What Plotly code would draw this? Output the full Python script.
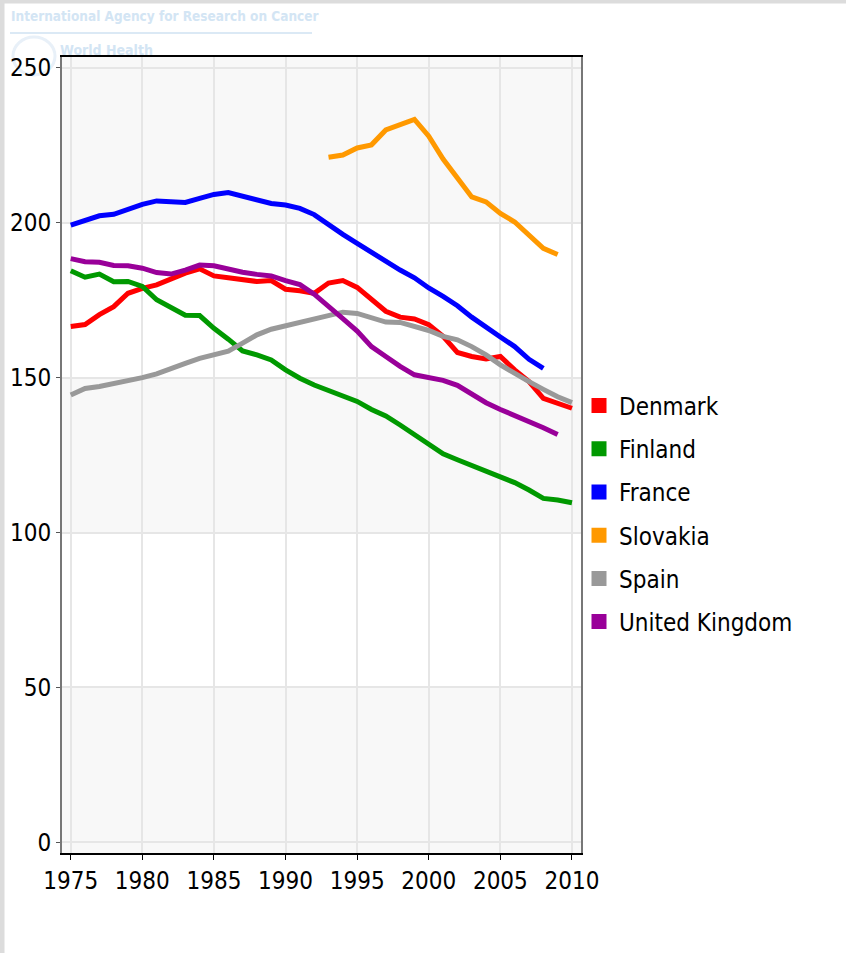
import plotly.graph_objects as go

W, H = 846, 953
L, R, T, B = 62, 265, 57, 100
PW, PH = W - L - R, H - T - B

def px_x(p):
    return (p - L) / PW

def px_y(p):
    return 1 - (p - T) / PH

countries = ["Denmark", "Finland", "France", "Slovakia", "Spain", "United Kingdom"]
colors = ["#ff0000", "#009900", "#0000ff", "#ff9900", "#999999", "#990099"]

years_denmark = list(range(1975, 2011))
denmark = [166.5, 167.1, 170.3, 172.9, 177.2, 178.8, 179.9, 182.0, 183.7, 185.1,
           182.8, 182.2, 181.7, 181.0, 181.3, 178.5, 178.0, 177.2, 180.5, 181.3,
           179.1, 175.2, 171.4, 169.5, 168.9, 167.1, 163.3, 158.1, 156.8, 156.0,
           156.8, 152.5, 148.7, 143.3, 141.7, 140.1]

years_finland = list(range(1975, 2011))
finland = [184.5, 182.4, 183.4, 180.9, 181.0, 179.4, 175.1, 172.4, 170.1, 170.0,
           165.9, 162.4, 158.6, 157.3, 155.7, 152.5, 149.8, 147.6, 145.8, 143.9,
           142.3, 139.7, 137.6, 134.7, 131.6, 128.9, 125.4, 123.5, 121.6, 119.7,
           118.1, 116.1, 113.7, 111.0, 110.5, 109.6]

years_france = list(range(1975, 2009))
france = [199.2, 200.7, 202.2, 202.7, 204.3, 205.9, 207.0, 206.6, 206.5, 207.8,
          209.1, 209.7, 208.4, 207.3, 206.2, 205.7, 204.6, 202.6, 199.3, 196.2,
          193.3, 190.3, 187.6, 184.7, 182.2, 178.9, 176.2, 173.2, 169.5, 166.5,
          163.1, 160.0, 155.9, 153.0]

years_slovakia = list(range(1993, 2010))
slovakia = [221.1, 221.8, 224.1, 225.1, 229.9, 231.5, 233.3, 227.9, 220.5, 214.4,
            208.3, 206.7, 203.0, 200.2, 195.9, 191.7, 189.7]

years_spain = list(range(1975, 2011))
spain = [144.4, 146.5, 147.1, 148.0, 149.0, 150.0, 151.2, 152.7, 154.6, 156.2,
         157.2, 158.5, 161.1, 163.8, 165.6, 166.7, 167.5, 168.7, 170.1, 171.1,
         170.7, 169.5, 167.9, 167.8, 166.5, 165.2, 163.3, 162.2, 160.0, 157.3,
         154.1, 151.2, 148.7, 146.2, 143.8, 141.9]

years_uk = list(range(1975, 2010))
uk = [188.4, 187.4, 187.2, 186.2, 186.1, 185.3, 183.9, 183.4, 184.7, 186.3,
      186.1, 184.9, 184.0, 183.3, 182.8, 181.3, 180.0, 176.9, 172.7, 169.0,
      165.0, 160.0, 156.8, 153.6, 150.9, 150.0, 149.1, 147.5, 144.8, 141.9,
      139.7, 137.8, 135.9, 133.8, 131.6]

x_ticks = [1975, 1980, 1985, 1990, 1995, 2000, 2005, 2010]
y_ticks = [0, 50, 100, 150, 200, 250]

series = [(years_denmark, denmark), (years_finland, finland), (years_france, france),
          (years_slovakia, slovakia), (years_spain, spain), (years_uk, uk)]

FONT = "DejaVu Sans Condensed, Liberation Sans Narrow, sans-serif"

fig = go.Figure()
for (xs, ys), name, col in zip(series, countries, colors):
    fig.add_trace(go.Scatter(x=xs, y=ys, mode="lines", name=name,
                             line=dict(color=col, width=5),
                             showlegend=False, hoverinfo="x+y+name"))
for i, (name, col) in enumerate(zip(countries, colors)):
    fig.add_trace(go.Scatter(x=[None], y=[None], mode="markers", name=name,
                             marker=dict(symbol="square", size=15, color=col),
                             legendgroup="g%d" % i, showlegend=True))

Y0, Y1 = -3.42, 253.45
X0, X1 = 1974.39, 2010.63

shapes = []
for a, b in [(Y0, 50), (100, 150), (200, Y1)]:
    shapes.append(dict(type="rect", xref="paper", yref="y", x0=0, x1=1, y0=a, y1=b,
                       fillcolor="#f8f8f8", line=dict(width=0), layer="below"))
# page frame
shapes.append(dict(type="rect", xref="paper", yref="paper",
                   x0=px_x(0), x1=px_x(W), y0=px_y(0), y1=px_y(3.5),
                   fillcolor="#dcdcdc", line=dict(width=0), layer="below"))
shapes.append(dict(type="rect", xref="paper", yref="paper",
                   x0=px_x(0), x1=px_x(4.5), y0=px_y(0), y1=px_y(H),
                   fillcolor="#dcdcdc", line=dict(width=0), layer="below"))
# header underline
shapes.append(dict(type="line", xref="paper", yref="paper",
                   x0=px_x(10), x1=px_x(312), y0=px_y(33), y1=px_y(33),
                   line=dict(color="#dbe9f5", width=2), layer="below"))
# faint emblem
shapes.append(dict(type="circle", xref="paper", yref="paper",
                   x0=px_x(13), x1=px_x(55), y0=px_y(75), y1=px_y(37),
                   line=dict(color="#e8f0f8", width=3), layer="below"))

annotations = [
    dict(text="<b>International Agency for Research on Cancer</b>", xref="paper", yref="paper",
         x=px_x(9), y=px_y(6), xanchor="left", yanchor="top", showarrow=False,
         font=dict(family=FONT, size=13.5, color="#d3e5f4")),
    dict(text="<b>World Health</b>", xref="paper", yref="paper",
         x=px_x(58), y=px_y(60), xanchor="left", yanchor="bottom", showarrow=False,
         font=dict(family=FONT, size=14, color="#d3e5f4")),
]

fig.update_layout(
    width=W, height=H,
    margin=dict(l=L, r=R, t=T, b=B, pad=0, autoexpand=False),
    paper_bgcolor="#ffffff", plot_bgcolor="#ffffff",
    shapes=shapes, annotations=annotations,
    font=dict(family=FONT, size=24, color="#000000"),
    showlegend=True,
    legend=dict(x=px_x(579), y=px_y(514), xanchor="left", yanchor="middle",
                font=dict(family=FONT, size=24, color="#000000"),
                traceorder="grouped", tracegroupgap=9, bgcolor="rgba(0,0,0,0)",
                itemsizing="trace"),
    xaxis=dict(range=[X0, X1], tickvals=x_ticks, ticks="outside", ticklen=5,
               tickcolor="#000000", tickwidth=1, showline=True, linecolor="#000000",
               linewidth=1.5, mirror=True, showgrid=True, gridcolor="#e6e6e6",
               gridwidth=1.5, zeroline=False, tickfont=dict(family=FONT, size=24)),
    yaxis=dict(range=[Y0, Y1], tickvals=y_ticks, ticks="outside", ticklen=4,
               tickcolor="#555555", tickwidth=1, showline=True, linecolor="#777777",
               linewidth=2, mirror=True, showgrid=True, gridcolor="#e6e6e6",
               gridwidth=1.5, zeroline=False, tickfont=dict(family=FONT, size=24)),
)

fig.write_html("out.html", config={"displayModeBar": False},
               post_script="document.body.style.margin='0';document.body.style.overflow='hidden';")
